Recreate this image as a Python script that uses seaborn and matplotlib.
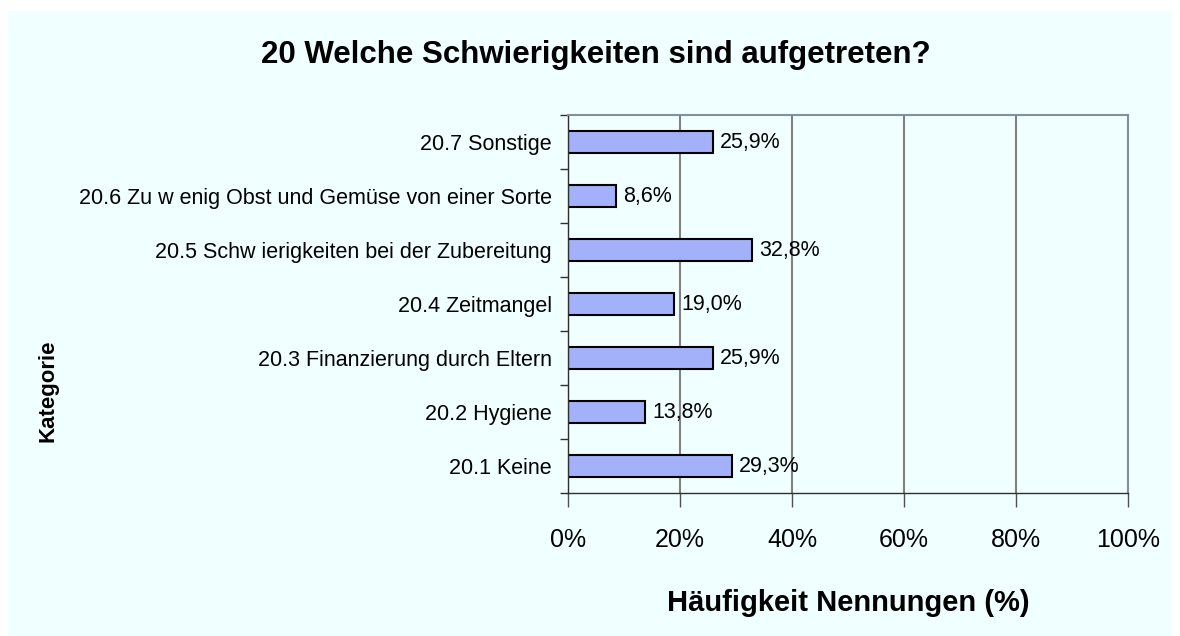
import matplotlib
matplotlib.use('Agg')
import matplotlib.pyplot as plt
import seaborn as sns
import pandas as pd
from matplotlib.patches import Rectangle
from matplotlib.ticker import FixedLocator, FuncFormatter

# Daten
kategorien = [
    '20.7 Sonstige',
    '20.6 Zu w enig Obst und Gemüse von einer Sorte',
    '20.5 Schw ierigkeiten bei der Zubereitung',
    '20.4 Zeitmangel',
    '20.3 Finanzierung durch Eltern',
    '20.2 Hygiene',
    '20.1 Keine',
]
werte = [25.9, 8.6, 32.8, 19.0, 25.9, 13.8, 29.3]
x_ticks = [0, 20, 40, 60, 80, 100]

df = pd.DataFrame({'Kategorie': kategorien, 'Wert': werte})

sns.set_theme(style='white')
plt.rcParams['font.family'] = ['Liberation Sans', 'DejaVu Sans']
plt.rcParams['text.color'] = 'black'
plt.rcParams['xtick.color'] = 'black'
plt.rcParams['ytick.color'] = 'black'

fig = plt.figure(figsize=(11.8, 6.36), dpi=100)
fig.patch.set_facecolor('white')
# hellblauer Hintergrund mit weissem Rand
fig.patches.append(Rectangle((8 / 1180, 0), 1164 / 1180, 625 / 636,
                             transform=fig.transFigure, facecolor='#F0FFFF',
                             edgecolor='none', zorder=-10))

ax = fig.add_axes([568 / 1180, 143 / 636, 560 / 1180, 378 / 636])
ax.set_facecolor('#F0FFFF')

sns.barplot(data=df, x='Wert', y='Kategorie', orient='h', color='#A2B1F9',
            edgecolor='black', linewidth=1.5, width=0.41, saturation=1, ax=ax)

ax.set_xlim(0, 100)
ax.set_ylim(len(kategorien) - 0.5, -0.5)
ax.xaxis.set_major_locator(FixedLocator(x_ticks))
ax.xaxis.set_major_formatter(FuncFormatter(lambda v, p: f'{v:.0f}%'))
ax.tick_params(axis='x', labelsize=18, length=10, width=1, color='#505050',
               direction='out', pad=15, bottom=True)
ax.grid(axis='x', color='#808080', linewidth=1.5)
ax.set_axisbelow(True)

# y-Ticks zwischen den Kategorien
ax.yaxis.set_minor_locator(FixedLocator([i - 0.5 for i in range(len(kategorien) + 1)]))
ax.tick_params(axis='y', which='major', length=0, labelsize=15.5, pad=11.5)
ax.tick_params(axis='y', which='minor', length=6, width=1, color='#303030',
               direction='out', left=True)

for side in ['top', 'right']:
    ax.spines[side].set_color('#8090A0')
    ax.spines[side].set_linewidth(1.5)
ax.spines['left'].set_color('#303030')
ax.spines['bottom'].set_color('#303030')
ax.spines['left'].set_linewidth(1)
ax.spines['bottom'].set_linewidth(1)

for i, v in enumerate(werte):
    ax.text(v + 1.3, i, f'{v:.1f}'.replace('.', ',') + '%', va='center',
            ha='left', fontsize=15.5, color='black')

ax.set_xlabel('')
ax.set_ylabel('')

fig.text(596 / 1180, 1 - 55 / 636, '20 Welche Schwierigkeiten sind aufgetreten?',
         ha='center', va='center', fontsize=22.5, fontweight='bold')
fig.text(848 / 1180, 1 - 603 / 636, 'Häufigkeit Nennungen (%)',
         ha='center', va='center', fontsize=21, fontweight='bold')
fig.text(48 / 1180, 1 - 391 / 636, 'Kategorie', ha='center', va='center',
         rotation=90, fontsize=16, fontweight='bold')

fig.savefig('out.png', dpi=100, facecolor=fig.get_facecolor())
